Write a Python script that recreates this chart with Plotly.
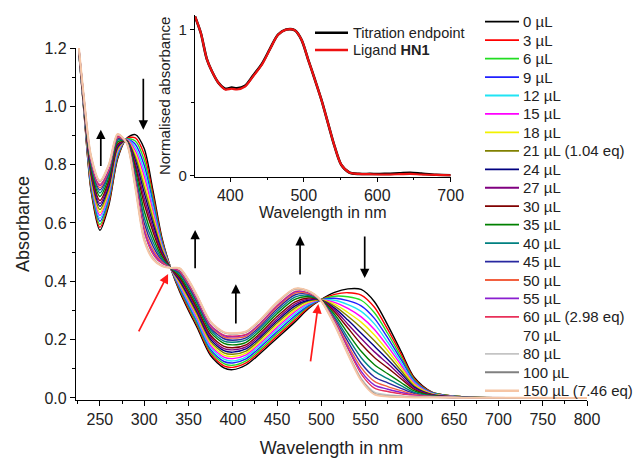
import plotly.graph_objects as go

# ---------------- data ----------------
wavelength = [226, 232, 240, 250, 260, 270, 280, 290, 300, 310, 320, 330, 340, 350, 360,
              375, 390, 400, 415, 430, 450, 470, 485, 499, 515, 530, 545, 560, 575, 590,
              605, 625, 660, 800]

volume_labels = ["0 µL", "3 µL", "6 µL", "9 µL", "12 µL", "15 µL", "18 µL", "21 µL (1.04 eq)",
                 "24 µL", "27 µL", "30 µL", "35 µL", "40 µL", "45 µL", "50 µL", "55 µL",
                 "60 µL (2.98 eq)", "70 µL", "80 µL", "100 µL", "150 µL (7.46 eq)"]

abs_0 = [1.190, 0.980, 0.710, 0.575, 0.660, 0.820, 0.890, 0.903, 0.855, 0.710, 0.550, 0.445, 0.365, 0.300, 0.240, 0.145, 0.103, 0.097, 0.113, 0.150, 0.205, 0.260, 0.305, 0.336, 0.362, 0.374, 0.372, 0.330, 0.250, 0.160, 0.070, 0.020, 0.004, 0.0]
abs_3 = [1.191, 0.983, 0.717, 0.585, 0.668, 0.825, 0.889, 0.892, 0.836, 0.696, 0.544, 0.445, 0.370, 0.306, 0.247, 0.152, 0.110, 0.105, 0.120, 0.157, 0.212, 0.267, 0.309, 0.336, 0.355, 0.361, 0.353, 0.311, 0.235, 0.151, 0.066, 0.019, 0.004, 0.0]
abs_6 = [1.192, 0.986, 0.724, 0.595, 0.677, 0.830, 0.888, 0.881, 0.817, 0.682, 0.538, 0.445, 0.375, 0.313, 0.253, 0.159, 0.118, 0.112, 0.127, 0.164, 0.220, 0.274, 0.313, 0.336, 0.349, 0.347, 0.335, 0.292, 0.221, 0.141, 0.062, 0.018, 0.004, 0.0]
abs_9 = [1.194, 0.989, 0.732, 0.606, 0.685, 0.835, 0.887, 0.870, 0.798, 0.668, 0.532, 0.445, 0.379, 0.319, 0.260, 0.166, 0.125, 0.120, 0.134, 0.171, 0.227, 0.281, 0.316, 0.336, 0.342, 0.334, 0.316, 0.273, 0.206, 0.132, 0.058, 0.017, 0.003, 0.0]
abs_12 = [1.195, 0.992, 0.739, 0.616, 0.694, 0.840, 0.886, 0.859, 0.779, 0.654, 0.527, 0.445, 0.384, 0.325, 0.266, 0.173, 0.133, 0.127, 0.141, 0.178, 0.235, 0.288, 0.320, 0.336, 0.335, 0.320, 0.297, 0.254, 0.191, 0.122, 0.054, 0.016, 0.003, 0.0]
abs_15 = [1.196, 0.995, 0.746, 0.626, 0.702, 0.846, 0.886, 0.848, 0.761, 0.640, 0.521, 0.445, 0.389, 0.332, 0.273, 0.180, 0.140, 0.135, 0.148, 0.185, 0.242, 0.295, 0.324, 0.336, 0.328, 0.307, 0.278, 0.235, 0.177, 0.113, 0.050, 0.015, 0.003, 0.0]
abs_18 = [1.197, 0.998, 0.753, 0.636, 0.710, 0.851, 0.885, 0.837, 0.742, 0.625, 0.515, 0.445, 0.394, 0.338, 0.280, 0.187, 0.147, 0.142, 0.154, 0.191, 0.249, 0.301, 0.328, 0.336, 0.322, 0.293, 0.260, 0.216, 0.162, 0.104, 0.046, 0.014, 0.003, 0.0]
abs_21 = [1.198, 1.001, 0.760, 0.646, 0.719, 0.856, 0.884, 0.826, 0.723, 0.611, 0.509, 0.445, 0.399, 0.344, 0.286, 0.194, 0.155, 0.150, 0.161, 0.198, 0.257, 0.308, 0.332, 0.336, 0.315, 0.280, 0.241, 0.196, 0.147, 0.094, 0.041, 0.012, 0.003, 0.0]
abs_24 = [1.200, 1.004, 0.768, 0.657, 0.727, 0.861, 0.883, 0.815, 0.704, 0.597, 0.503, 0.445, 0.403, 0.350, 0.293, 0.201, 0.162, 0.157, 0.168, 0.205, 0.264, 0.315, 0.335, 0.336, 0.308, 0.267, 0.222, 0.177, 0.132, 0.085, 0.037, 0.011, 0.003, 0.0]
abs_27 = [1.201, 1.007, 0.775, 0.667, 0.736, 0.866, 0.882, 0.804, 0.685, 0.583, 0.497, 0.445, 0.408, 0.357, 0.299, 0.208, 0.169, 0.165, 0.175, 0.212, 0.271, 0.322, 0.339, 0.336, 0.302, 0.253, 0.204, 0.158, 0.118, 0.075, 0.033, 0.010, 0.002, 0.0]
abs_30 = [1.202, 1.010, 0.782, 0.677, 0.744, 0.871, 0.881, 0.793, 0.666, 0.569, 0.491, 0.446, 0.413, 0.363, 0.306, 0.215, 0.177, 0.172, 0.182, 0.219, 0.279, 0.329, 0.343, 0.336, 0.295, 0.240, 0.185, 0.139, 0.103, 0.066, 0.029, 0.009, 0.002, 0.0]
abs_35 = [1.204, 1.014, 0.792, 0.691, 0.755, 0.878, 0.880, 0.779, 0.641, 0.550, 0.483, 0.446, 0.419, 0.371, 0.315, 0.225, 0.187, 0.182, 0.191, 0.228, 0.289, 0.338, 0.348, 0.336, 0.286, 0.222, 0.160, 0.114, 0.083, 0.053, 0.024, 0.008, 0.002, 0.0]
abs_40 = [1.205, 1.018, 0.800, 0.703, 0.765, 0.884, 0.879, 0.766, 0.619, 0.534, 0.477, 0.446, 0.425, 0.379, 0.323, 0.233, 0.195, 0.191, 0.199, 0.236, 0.297, 0.346, 0.352, 0.336, 0.278, 0.206, 0.138, 0.092, 0.066, 0.042, 0.019, 0.007, 0.002, 0.0]
abs_45 = [1.206, 1.021, 0.807, 0.713, 0.773, 0.889, 0.878, 0.755, 0.600, 0.520, 0.471, 0.446, 0.430, 0.385, 0.329, 0.240, 0.203, 0.198, 0.206, 0.243, 0.305, 0.353, 0.356, 0.336, 0.271, 0.193, 0.119, 0.072, 0.052, 0.033, 0.015, 0.005, 0.002, 0.0]
abs_50 = [1.207, 1.023, 0.813, 0.721, 0.780, 0.893, 0.877, 0.746, 0.584, 0.508, 0.466, 0.446, 0.434, 0.390, 0.335, 0.246, 0.209, 0.205, 0.212, 0.249, 0.311, 0.359, 0.359, 0.336, 0.266, 0.181, 0.104, 0.057, 0.039, 0.025, 0.012, 0.005, 0.001, 0.0]
abs_55 = [1.208, 1.025, 0.818, 0.728, 0.786, 0.897, 0.877, 0.738, 0.572, 0.499, 0.462, 0.446, 0.437, 0.395, 0.339, 0.250, 0.214, 0.210, 0.217, 0.254, 0.316, 0.364, 0.362, 0.336, 0.261, 0.172, 0.091, 0.044, 0.030, 0.019, 0.009, 0.004, 0.001, 0.0]
abs_60 = [1.209, 1.027, 0.822, 0.733, 0.790, 0.899, 0.876, 0.733, 0.562, 0.491, 0.459, 0.446, 0.439, 0.398, 0.342, 0.254, 0.217, 0.213, 0.220, 0.257, 0.319, 0.367, 0.364, 0.336, 0.258, 0.166, 0.082, 0.034, 0.022, 0.014, 0.007, 0.003, 0.001, 0.0]
abs_70 = [1.209, 1.028, 0.825, 0.738, 0.794, 0.902, 0.876, 0.727, 0.553, 0.484, 0.456, 0.446, 0.442, 0.401, 0.346, 0.257, 0.221, 0.217, 0.223, 0.260, 0.323, 0.370, 0.366, 0.336, 0.255, 0.159, 0.073, 0.025, 0.015, 0.009, 0.005, 0.003, 0.001, 0.0]
abs_80 = [1.210, 1.029, 0.827, 0.741, 0.797, 0.903, 0.875, 0.725, 0.548, 0.481, 0.454, 0.446, 0.443, 0.402, 0.347, 0.259, 0.223, 0.219, 0.225, 0.262, 0.325, 0.372, 0.366, 0.336, 0.253, 0.156, 0.068, 0.020, 0.011, 0.007, 0.004, 0.002, 0.001, 0.0]
abs_100 = [1.210, 1.030, 0.829, 0.743, 0.799, 0.904, 0.875, 0.722, 0.543, 0.477, 0.453, 0.446, 0.444, 0.404, 0.349, 0.261, 0.225, 0.221, 0.227, 0.264, 0.327, 0.374, 0.367, 0.336, 0.251, 0.152, 0.063, 0.015, 0.007, 0.005, 0.003, 0.002, 0.001, 0.0]
abs_150 = [1.210, 1.030, 0.830, 0.745, 0.800, 0.905, 0.875, 0.720, 0.540, 0.475, 0.452, 0.446, 0.445, 0.405, 0.350, 0.262, 0.226, 0.222, 0.228, 0.265, 0.328, 0.375, 0.368, 0.336, 0.250, 0.150, 0.060, 0.012, 0.005, 0.003, 0.002, 0.002, 0.001, 0.0]

spectra = [abs_0, abs_3, abs_6, abs_9, abs_12, abs_15, abs_18, abs_21, abs_24, abs_27,
           abs_30, abs_35, abs_40, abs_45, abs_50, abs_55, abs_60, abs_70, abs_80, abs_100, abs_150]

line_colors = ["#000000", "#ff0000", "#22dd22", "#2020ff", "#20e4f4", "#ff00ff", "#f2f200",
               "#808000", "#000080", "#800080", "#800000", "#008000", "#008080", "#2828a0",
               "#f26040", "#8a1fd0", "#e8305a", "#ffffff", "#c4c4c4", "#808080", "#f6c6a6"]

# inset (normalised spectra)
inset_wavelength = [352, 360, 368, 375, 384, 393, 402, 409, 420, 431, 443, 454, 465, 476, 488,
                    497, 506, 515, 524, 533, 542, 551, 562, 575, 590, 610, 630, 645, 660, 680, 700]
endpoint_norm = [1.09, 0.975, 0.80, 0.715, 0.635, 0.595, 0.603, 0.598, 0.615, 0.685, 0.765, 0.868,
                 0.965, 1.0, 0.995, 0.93, 0.795, 0.66, 0.52, 0.36, 0.2, 0.075, 0.022, 0.012, 0.012,
                 0.012, 0.016, 0.02, 0.014, 0.006, 0.003]
ligand_norm = [1.09, 0.975, 0.80, 0.715, 0.635, 0.59, 0.595, 0.59, 0.61, 0.68, 0.76, 0.865,
               0.965, 1.0, 0.995, 0.93, 0.795, 0.66, 0.52, 0.36, 0.2, 0.075, 0.022, 0.012, 0.01,
               0.008, 0.01, 0.012, 0.008, 0.005, 0.003]

# arrows: (head wavelength, head absorbance, tail wavelength, tail absorbance, colour)
arrows = [(251, 0.92, 251, 0.79, "black"),
          (299, 0.92, 299, 1.10, "black"),
          (357.5, 0.576, 357.5, 0.44, "black"),
          (403.5, 0.39, 403.5, 0.25, "black"),
          (476, 0.555, 476, 0.418, "black"),
          (549, 0.411, 549, 0.559, "black"),
          (327, 0.425, 293, 0.223, "#ff1a1a"),
          (496.6, 0.322, 487.6, 0.12, "#ff1a1a")]

# ---------------- figure ----------------
FONT = "Liberation Sans, Arial, sans-serif"
W, H = 635, 459
ML, MR, MT, MB = 76, 48, 15, 59
PW, PH = W - ML - MR, H - MT - MB


def px_x(px):
    return (px - ML) / PW


def px_y(py):
    return (H - MB - py) / PH


fig = go.Figure()

for lab, col, ys in zip(volume_labels, line_colors, spectra):
    fig.add_trace(go.Scatter(
        x=wavelength, y=ys, mode="lines", name=lab, showlegend=False,
        line=dict(color=col, width=2.0 if lab.startswith("150") else 1.4,
                  shape="spline", smoothing=0.8),
        xaxis="x", yaxis="y"))

fig.add_trace(go.Scatter(x=inset_wavelength, y=endpoint_norm, mode="lines",
                         name="Titration endpoint", showlegend=False,
                         line=dict(color="black", width=2.6, shape="spline", smoothing=0.8),
                         xaxis="x2", yaxis="y2"))
fig.add_trace(go.Scatter(x=inset_wavelength, y=ligand_norm, mode="lines",
                         name="Ligand HN1", showlegend=False,
                         line=dict(color="#ee1111", width=2.2, shape="spline", smoothing=0.8),
                         xaxis="x2", yaxis="y2"))

shapes = []
annotations = []

# main legend (manual, to match spacing)
for i, (lab, col) in enumerate(zip(volume_labels, line_colors)):
    yy = px_y(21.7 + 18.45 * i)
    shapes.append(dict(type="line", xref="paper", yref="paper",
                       x0=px_x(485), x1=px_x(519), y0=yy, y1=yy,
                       line=dict(color=col, width=2.6 if lab.startswith("150") else 1.8)))
    annotations.append(dict(xref="paper", yref="paper", x=px_x(521), y=yy,
                            xanchor="left", yanchor="middle", showarrow=False,
                            text=lab, font=dict(family=FONT, size=15, color="#222")))

# inset legend
for yy_px, col, lab in [(32.7, "black", "Titration endpoint"),
                        (50.0, "#ee1111", "Ligand <b>HN1</b>")]:
    yy = px_y(yy_px)
    shapes.append(dict(type="line", xref="paper", yref="paper",
                       x0=px_x(315), x1=px_x(348), y0=yy, y1=yy,
                       line=dict(color=col, width=2.4)))
    annotations.append(dict(xref="paper", yref="paper", x=px_x(351), y=yy,
                            xanchor="left", yanchor="middle", showarrow=False,
                            text=lab, font=dict(family=FONT, size=14.5, color="#222")))

for hx, hy, tx, ty, col in arrows:
    annotations.append(dict(x=hx, y=hy, ax=tx, ay=ty, xref="x", yref="y",
                            axref="x", ayref="y", text="", showarrow=True,
                            arrowhead=2, arrowsize=1.1, arrowwidth=1.7, arrowcolor=col))

axis_common = dict(showline=True, linecolor="black", linewidth=1.2, ticks="outside",
                   tickcolor="black", showgrid=False, zeroline=False, mirror=False,
                   automargin=False)

main_top = px_y(48)

fig.update_layout(
    width=W, height=H,
    margin=dict(l=ML, r=MR, t=MT, b=MB, autoexpand=False),
    paper_bgcolor="white", plot_bgcolor="white",
    showlegend=False,
    xaxis=dict(domain=[0, 1], range=[223, 800], tick0=250, dtick=50, ticklen=5,
               minor=dict(dtick=25, ticklen=3, ticks="outside", tickcolor="black"),
               tickfont=dict(family=FONT, size=16, color="#222"),
               title=dict(text="Wavelength in nm", font=dict(family=FONT, size=18, color="#222"),
                          standoff=14),
               anchor="y", **axis_common),
    yaxis=dict(domain=[0, main_top], range=[-0.007, 1.2], dtick=0.2, tick0=0, ticklen=5,
               tickformat=".1f",
               minor=dict(dtick=0.1, ticklen=3, ticks="outside", tickcolor="black"),
               tickfont=dict(family=FONT, size=16, color="#222"),
               title=dict(text="Absorbance", font=dict(family=FONT, size=18, color="#222"),
                          standoff=10),
               anchor="x", **axis_common),
    xaxis2=dict(domain=[px_x(195), px_x(450.7)], range=[352, 700], dtick=100, tick0=0, ticklen=4,
                minor=dict(dtick=50, ticklen=2.5, ticks="outside", tickcolor="black"),
                tickfont=dict(family=FONT, size=16, color="#222"),
                title=dict(text="Wavelength in nm", font=dict(family=FONT, size=16, color="#222"),
                           standoff=2),
                anchor="y2", **axis_common),
    yaxis2=dict(domain=[px_y(176.7), 1], range=[-0.007, 1.1], tickvals=[0, 1], ticktext=["0", "1"],
                ticklen=4,
                minor=dict(tickvals=[0.5], ticklen=3, ticks="outside", tickcolor="black"),
                tickfont=dict(family=FONT, size=15, color="#222"),
                title=dict(text="Normalised absorbance", font=dict(family=FONT, size=15, color="#222"),
                           standoff=4),
                anchor="x2", **axis_common),
    shapes=shapes,
    annotations=annotations,
)

fig.write_html("out.html", config={"displayModeBar": False},
               post_script="document.body.style.margin='0px';document.body.style.overflow='hidden';")
